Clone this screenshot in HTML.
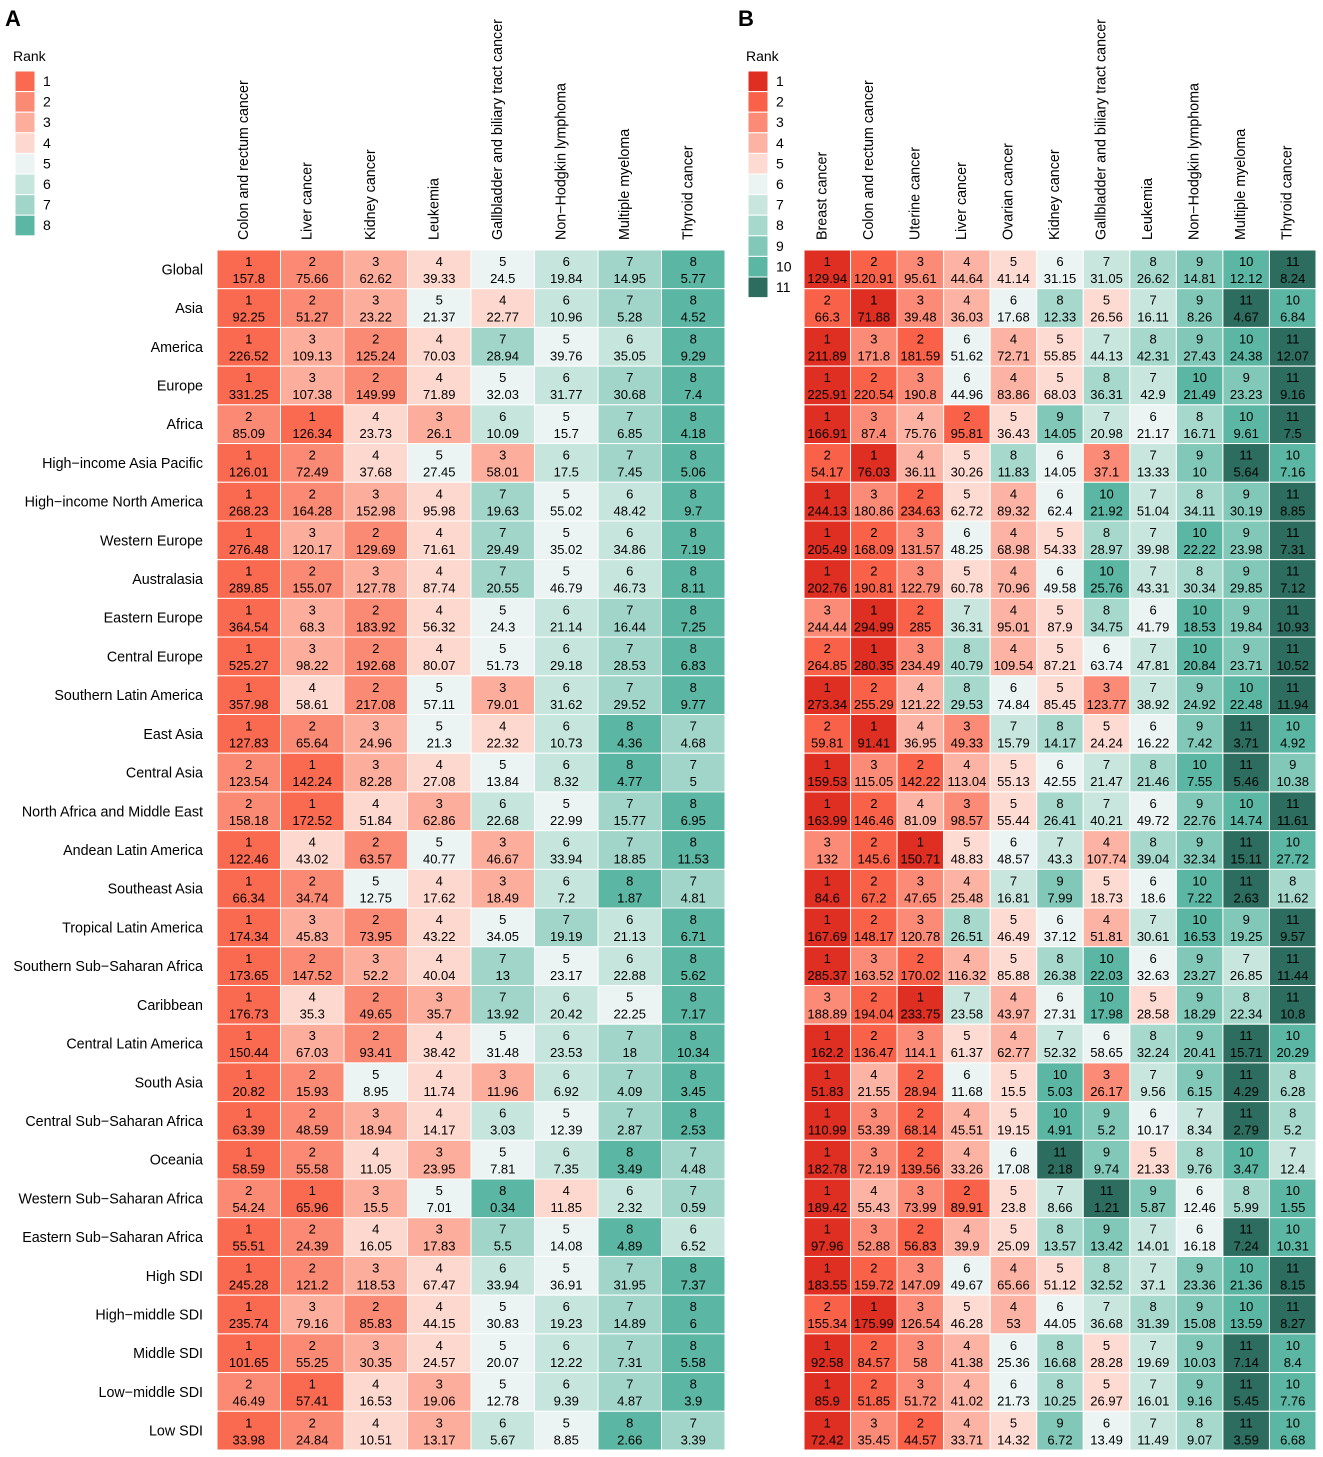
<!DOCTYPE html>
<html><head><meta charset="utf-8"><style>
body{margin:0;background:#fff;}
svg{display:block;font-family:"Liberation Sans",Arial,sans-serif;}
</style></head><body>
<svg id="c" width="1323" height="1457" xmlns="http://www.w3.org/2000/svg"></svg>
<script>
const regions=["Global","Asia","America","Europe","Africa","High\u2212income Asia Pacific","High\u2212income North America","Western Europe","Australasia","Eastern Europe","Central Europe","Southern Latin America","East Asia","Central Asia","North Africa and Middle East","Andean Latin America","Southeast Asia","Tropical Latin America","Southern Sub\u2212Saharan Africa","Caribbean","Central Latin America","South Asia","Central Sub\u2212Saharan Africa","Oceania","Western Sub\u2212Saharan Africa","Eastern Sub\u2212Saharan Africa","High SDI","High\u2212middle SDI","Middle SDI","Low\u2212middle SDI","Low SDI"];
const catsA=["Colon and rectum cancer","Liver cancer","Kidney cancer","Leukemia","Gallbladder and biliary tract cancer","Non\u2212Hodgkin lymphoma","Multiple myeloma","Thyroid cancer"];
const catsB=["Breast cancer","Colon and rectum cancer","Uterine cancer","Liver cancer","Ovarian cancer","Kidney cancer","Gallbladder and biliary tract cancer","Leukemia","Non\u2212Hodgkin lymphoma","Multiple myeloma","Thyroid cancer"];
const rankA=[[1,2,3,4,5,6,7,8],[1,2,3,5,4,6,7,8],[1,3,2,4,7,5,6,8],[1,3,2,4,5,6,7,8],[2,1,4,3,6,5,7,8],[1,2,4,5,3,6,7,8],[1,2,3,4,7,5,6,8],[1,3,2,4,7,5,6,8],[1,2,3,4,7,5,6,8],[1,3,2,4,5,6,7,8],[1,3,2,4,5,6,7,8],[1,4,2,5,3,6,7,8],[1,2,3,5,4,6,8,7],[2,1,3,4,5,6,8,7],[2,1,4,3,6,5,7,8],[1,4,2,5,3,6,7,8],[1,2,5,4,3,6,8,7],[1,3,2,4,5,7,6,8],[1,2,3,4,7,5,6,8],[1,4,2,3,7,6,5,8],[1,3,2,4,5,6,7,8],[1,2,5,4,3,6,7,8],[1,2,3,4,6,5,7,8],[1,2,4,3,5,6,8,7],[2,1,3,5,8,4,6,7],[1,2,4,3,7,5,8,6],[1,2,3,4,6,5,7,8],[1,3,2,4,5,6,7,8],[1,2,3,4,5,6,7,8],[2,1,4,3,5,6,7,8],[1,2,4,3,6,5,8,7]];
const valA=[[157.8,75.66,62.62,39.33,24.5,19.84,14.95,5.77],[92.25,51.27,23.22,21.37,22.77,10.96,5.28,4.52],[226.52,109.13,125.24,70.03,28.94,39.76,35.05,9.29],[331.25,107.38,149.99,71.89,32.03,31.77,30.68,7.4],[85.09,126.34,23.73,26.1,10.09,15.7,6.85,4.18],[126.01,72.49,37.68,27.45,58.01,17.5,7.45,5.06],[268.23,164.28,152.98,95.98,19.63,55.02,48.42,9.7],[276.48,120.17,129.69,71.61,29.49,35.02,34.86,7.19],[289.85,155.07,127.78,87.74,20.55,46.79,46.73,8.11],[364.54,68.3,183.92,56.32,24.3,21.14,16.44,7.25],[525.27,98.22,192.68,80.07,51.73,29.18,28.53,6.83],[357.98,58.61,217.08,57.11,79.01,31.62,29.52,9.77],[127.83,65.64,24.96,21.3,22.32,10.73,4.36,4.68],[123.54,142.24,82.28,27.08,13.84,8.32,4.77,5],[158.18,172.52,51.84,62.86,22.68,22.99,15.77,6.95],[122.46,43.02,63.57,40.77,46.67,33.94,18.85,11.53],[66.34,34.74,12.75,17.62,18.49,7.2,1.87,4.81],[174.34,45.83,73.95,43.22,34.05,19.19,21.13,6.71],[173.65,147.52,52.2,40.04,13,23.17,22.88,5.62],[176.73,35.3,49.65,35.7,13.92,20.42,22.25,7.17],[150.44,67.03,93.41,38.42,31.48,23.53,18,10.34],[20.82,15.93,8.95,11.74,11.96,6.92,4.09,3.45],[63.39,48.59,18.94,14.17,3.03,12.39,2.87,2.53],[58.59,55.58,11.05,23.95,7.81,7.35,3.49,4.48],[54.24,65.96,15.5,7.01,0.34,11.85,2.32,0.59],[55.51,24.39,16.05,17.83,5.5,14.08,4.89,6.52],[245.28,121.2,118.53,67.47,33.94,36.91,31.95,7.37],[235.74,79.16,85.83,44.15,30.83,19.23,14.89,6],[101.65,55.25,30.35,24.57,20.07,12.22,7.31,5.58],[46.49,57.41,16.53,19.06,12.78,9.39,4.87,3.9],[33.98,24.84,10.51,13.17,5.67,8.85,2.66,3.39]];
const rankB=[[1,2,3,4,5,6,7,8,9,10,11],[2,1,3,4,6,8,5,7,9,11,10],[1,3,2,6,4,5,7,8,9,10,11],[1,2,3,6,4,5,8,7,10,9,11],[1,3,4,2,5,9,7,6,8,10,11],[2,1,4,5,8,6,3,7,9,11,10],[1,3,2,5,4,6,10,7,8,9,11],[1,2,3,6,4,5,8,7,10,9,11],[1,2,3,5,4,6,10,7,8,9,11],[3,1,2,7,4,5,8,6,10,9,11],[2,1,3,8,4,5,6,7,10,9,11],[1,2,4,8,6,5,3,7,9,10,11],[2,1,4,3,7,8,5,6,9,11,10],[1,3,2,4,5,6,7,8,10,11,9],[1,2,4,3,5,8,7,6,9,10,11],[3,2,1,5,6,7,4,8,9,11,10],[1,2,3,4,7,9,5,6,10,11,8],[1,2,3,8,5,6,4,7,10,9,11],[1,3,2,4,5,8,10,6,9,7,11],[3,2,1,7,4,6,10,5,9,8,11],[1,2,3,5,4,7,6,8,9,11,10],[1,4,2,6,5,10,3,7,9,11,8],[1,3,2,4,5,10,9,6,7,11,8],[1,3,2,4,6,11,9,5,8,10,7],[1,4,3,2,5,7,11,9,6,8,10],[1,3,2,4,5,8,9,7,6,11,10],[1,2,3,6,4,5,8,7,9,10,11],[2,1,3,5,4,6,7,8,9,10,11],[1,2,3,4,6,8,5,7,9,11,10],[1,2,3,4,6,8,5,7,9,11,10],[1,3,2,4,5,9,6,7,8,11,10]];
const valB=[[129.94,120.91,95.61,44.64,41.14,31.15,31.05,26.62,14.81,12.12,8.24],[66.3,71.88,39.48,36.03,17.68,12.33,26.56,16.11,8.26,4.67,6.84],[211.89,171.8,181.59,51.62,72.71,55.85,44.13,42.31,27.43,24.38,12.07],[225.91,220.54,190.8,44.96,83.86,68.03,36.31,42.9,21.49,23.23,9.16],[166.91,87.4,75.76,95.81,36.43,14.05,20.98,21.17,16.71,9.61,7.5],[54.17,76.03,36.11,30.26,11.83,14.05,37.1,13.33,10,5.64,7.16],[244.13,180.86,234.63,62.72,89.32,62.4,21.92,51.04,34.11,30.19,8.85],[205.49,168.09,131.57,48.25,68.98,54.33,28.97,39.98,22.22,23.98,7.31],[202.76,190.81,122.79,60.78,70.96,49.58,25.76,43.31,30.34,29.85,7.12],[244.44,294.99,285,36.31,95.01,87.9,34.75,41.79,18.53,19.84,10.93],[264.85,280.35,234.49,40.79,109.54,87.21,63.74,47.81,20.84,23.71,10.52],[273.34,255.29,121.22,29.53,74.84,85.45,123.77,38.92,24.92,22.48,11.94],[59.81,91.41,36.95,49.33,15.79,14.17,24.24,16.22,7.42,3.71,4.92],[159.53,115.05,142.22,113.04,55.13,42.55,21.47,21.46,7.55,5.46,10.38],[163.99,146.46,81.09,98.57,55.44,26.41,40.21,49.72,22.76,14.74,11.61],[132,145.6,150.71,48.83,48.57,43.3,107.74,39.04,32.34,15.11,27.72],[84.6,67.2,47.65,25.48,16.81,7.99,18.73,18.6,7.22,2.63,11.62],[167.69,148.17,120.78,26.51,46.49,37.12,51.81,30.61,16.53,19.25,9.57],[285.37,163.52,170.02,116.32,85.88,26.38,22.03,32.63,23.27,26.85,11.44],[188.89,194.04,233.75,23.58,43.97,27.31,17.98,28.58,18.29,22.34,10.8],[162.2,136.47,114.1,61.37,62.77,52.32,58.65,32.24,20.41,15.71,20.29],[51.83,21.55,28.94,11.68,15.5,5.03,26.17,9.56,6.15,4.29,6.28],[110.99,53.39,68.14,45.51,19.15,4.91,5.2,10.17,8.34,2.79,5.2],[182.78,72.19,139.56,33.26,17.08,2.18,9.74,21.33,9.76,3.47,12.4],[189.42,55.43,73.99,89.91,23.8,8.66,1.21,5.87,12.46,5.99,1.55],[97.96,52.88,56.83,39.9,25.09,13.57,13.42,14.01,16.18,7.24,10.31],[183.55,159.72,147.09,49.67,65.66,51.12,32.52,37.1,23.36,21.36,8.15],[155.34,175.99,126.54,46.28,53,44.05,36.68,31.39,15.08,13.59,8.27],[92.58,84.57,58,41.38,25.36,16.68,28.28,19.69,10.03,7.14,8.4],[85.9,51.85,51.72,41.02,21.73,10.25,26.97,16.01,9.16,5.45,7.76],[72.42,35.45,44.57,33.71,14.32,6.72,13.49,11.49,9.07,3.59,6.68]];
const paletteA=['#FA6A50','#FB8A74','#FCAD9C','#FDD8CE','#EBF4F2','#C6E5DD','#A1D5C9','#5BB6A3'];
const paletteB=['#DF2E22','#FA6149','#FB8B76','#FCB3A4','#FDDBD3','#EBF4F2','#C8E6DE','#A6D8CC','#82C8B8','#5BB6A3','#2C6D5F'];

const svg=document.getElementById('c');
const NS='http://www.w3.org/2000/svg';
function mk(tag,attrs,parent){const e=document.createElementNS(NS,tag);for(const k in attrs)e.setAttribute(k,attrs[k]);(parent||svg).appendChild(e);return e;}
const top0=250,rowH=1200/31;
function yRow(i){return top0+i*rowH;}

function panel(id,x0,x1,cats,ranks,vals,pal,letterX,legX,showRows){
  const g=mk('g',{});
  
  
  const cw=(x1-x0)/cats.length;
  const xCol=j=>x0+j*cw;
  const L=mk('text',{x:letterX,y:26,'font-size':22,'font-weight':'bold',fill:'#000'},g);
  L.textContent=id;
  
  
  const lg=mk('g',{},g);
  
  
  const lt=mk('text',{x:legX-2,y:61,'font-size':14},lg);lt.textContent='Rank';
  
  
  pal.forEach((c,k)=>{
    const r=mk('rect',{x:legX,y:71+k*20.6,width:20,height:20.6,fill:c,stroke:'#fff','stroke-width':1},lg);
    
    
    const t=mk('text',{x:legX+28,y:71+k*20.6+15,'font-size':14},lg);t.textContent=k+1;
    
    
  });
  cats.forEach((c,j)=>{
    const cx=xCol(j)+cw/2-1;
    const t=mk('text',{x:0,y:0,'font-size':14.3,transform:`translate(${cx},240) rotate(-90)`},g);
    t.textContent=c;
    
    
  });
  ranks.forEach((row,i)=>{
    if(showRows){
      const t=mk('text',{x:203,y:yRow(i)+rowH/2+5,'font-size':14.3,'text-anchor':'end'},g);
      t.textContent=regions[i];
      
      
    }
    row.forEach((rk,j)=>{
      const r=mk('rect',{x:xCol(j),y:yRow(i),width:cw,height:rowH,fill:pal[rk-1],stroke:'#fff','stroke-width':1},g);
      
      
      const cx=xCol(j)+cw/2;
      const t1=mk('text',{x:cx,y:yRow(i)+16,'font-size':13,'text-anchor':'middle'},g);
      t1.textContent=rk;
      
      
      const t2=mk('text',{x:cx,y:yRow(i)+33,'font-size':13,'text-anchor':'middle'},g);
      t2.textContent=vals[i][j];
      
      
    });
  });
}
panel('A',217,725,catsA,rankA,valA,paletteA,5,15,true);
panel('B',804,1316,catsB,rankB,valB,paletteB,738,748,false);
</script>
</body></html>
